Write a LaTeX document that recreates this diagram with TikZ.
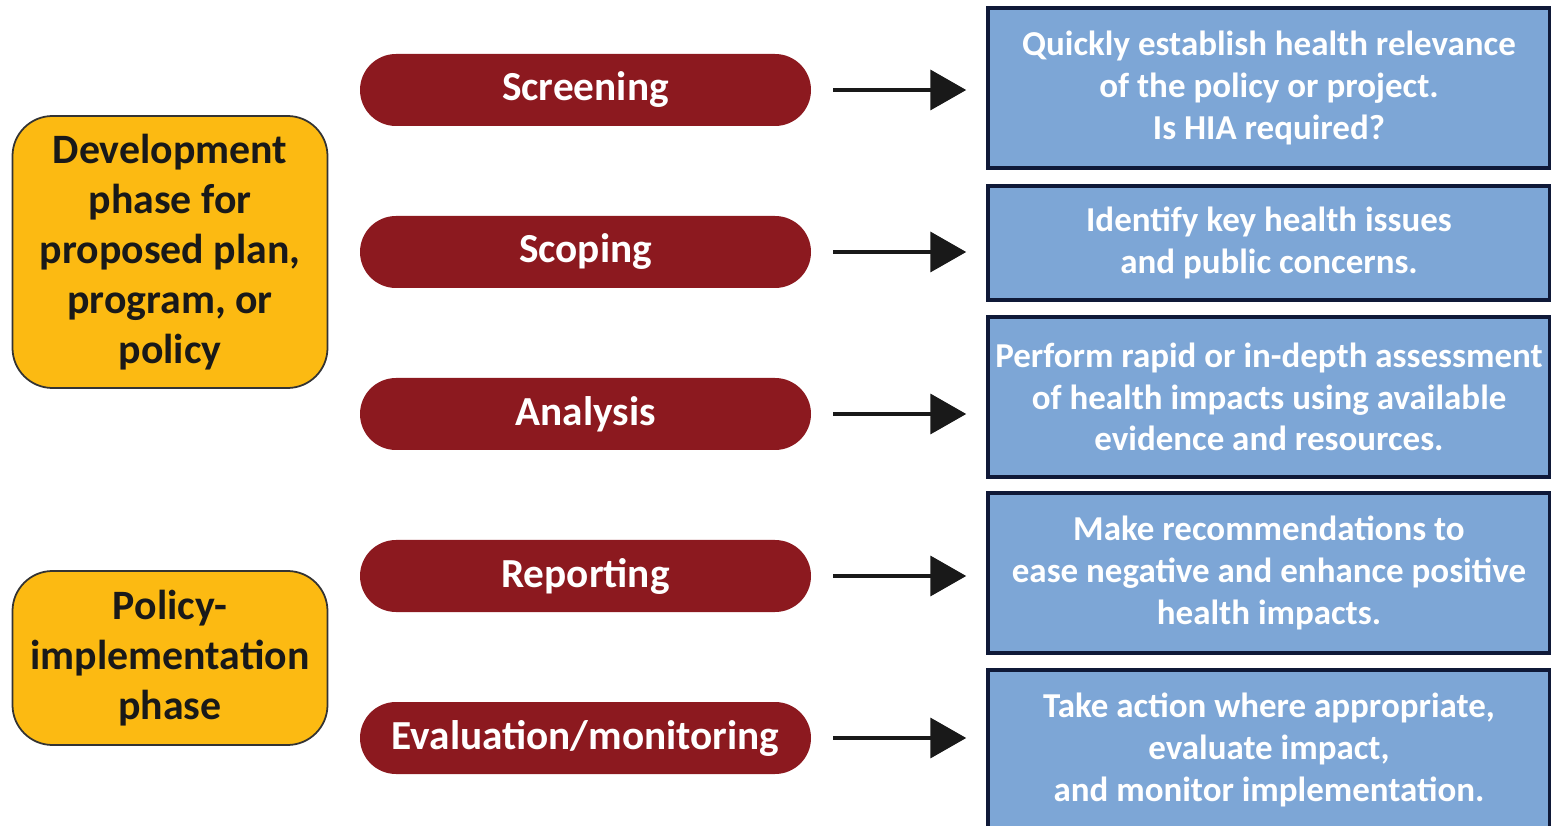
\documentclass[tikz,border=0pt]{standalone}
\usepackage{fontspec}
\setmainfont{Carlito}
\usepackage{tikz}
\usetikzlibrary{arrows.meta, positioning}
\definecolor{phaseyellow}{rgb}{0.99, 0.73, 0.07}
\definecolor{stepred}{rgb}{0.55, 0.10, 0.12}
\definecolor{taskblue}{rgb}{0.49, 0.65, 0.84}
\definecolor{taskedge}{rgb}{0.06, 0.10, 0.22}

\begin{document}
\begin{tikzpicture}[
		phase/.style={draw=black!80, line width=1pt, fill=phaseyellow, rounded corners=0.8cm,
			minimum width=6.3cm, align=center, text=black!90,
			font=\fontsize{23.8}{28.4}\selectfont\bfseries},
		stepbox/.style={fill=stepred, rounded corners=0.72cm, minimum width=9.02cm,
			minimum height=1.44cm, text=white, font=\fontsize{23.5}{28}\selectfont\bfseries},
		taskbox/.style={draw=taskedge, line width=2pt, fill=taskblue, minimum width=11.24cm,
			align=center, text=white, font=\fontsize{19.9}{23.8}\selectfont\bfseries},
		flow/.style={-{Triangle[length=0.72cm, width=0.8cm]}, line width=2.2pt, black!90,
			shorten <=0.44cm, shorten >=0.4cm}]
		\useasboundingbox (0,0) rectangle (31.02,-16.52);
		\clip (0,0) rectangle (31.02,-16.52);
		% phases:
		\node [phase, minimum height=5.44cm] (devel) at (3.4,-5.04)
			{Development\\phase for\\proposed plan,\\program, or\\policy};
		\node [phase, minimum height=3.48cm] (implem) at (3.4,-13.16)
			{Policy-\\implementation\\phase};
		% steps
		\node [stepbox] (screen) at (11.71,-1.8) {Screening};
		\node [stepbox] (scope) at (11.71,-5.04) {Scoping};
		\node [stepbox] (analys) at (11.71,-8.28) {Analysis};
		\node [stepbox] (report) at (11.71,-11.52) {Reporting};
		\node [stepbox] (evalmon) at (11.71,-14.76) {Evaluation/monitoring};
		% tasks
		\node [taskbox, minimum height=3.2cm] (screentask) at (25.38,-1.76)
			{Quickly establish health relevance\\of the policy or project.\\Is HIA required?};
		\node [taskbox, minimum height=2.28cm] (scopetask) at (25.38,-4.86)
			{Identify key health issues\\and public concerns.};
		\node [taskbox, minimum height=3.2cm] (analystask) at (25.38,-7.94)
			{Perform rapid or in-depth assessment\\of health impacts using available\\evidence and resources.};
		\node [taskbox, minimum height=3.2cm] (reporttask) at (25.38,-11.46)
			{Make recommendations to\\ease negative and enhance positive\\health impacts.};
		\node [taskbox, minimum height=3.2cm] (evaltask) at (25.38,-15.0)
			{Take action where appropriate,\\evaluate impact,\\and monitor implementation.};
		% arrows
		\draw [flow] (screen.east) -- (screen.east -| screentask.west);
		\draw [flow] (scope.east) -- (scope.east -| scopetask.west);
		\draw [flow] (analys.east) -- (analys.east -| analystask.west);
		\draw [flow] (report.east) -- (report.east -| reporttask.west);
		\draw [flow] (evalmon.east) -- (evalmon.east -| evaltask.west);
	\end{tikzpicture}
\end{document}
